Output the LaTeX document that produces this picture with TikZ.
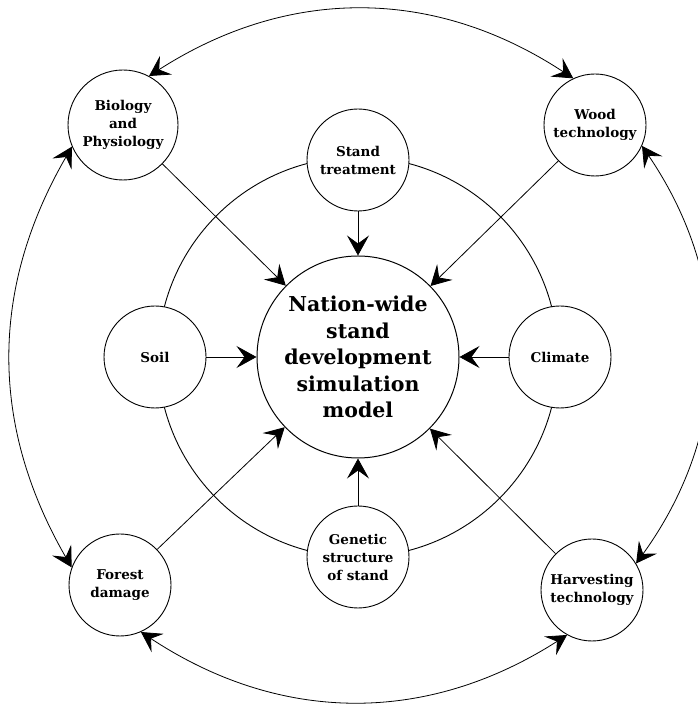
\documentclass[tikz,border=0pt]{standalone}
\usepackage{fontspec}
\setmainfont{DejaVu Serif}
\usetikzlibrary{arrows.meta}
\begin{document}
\begin{tikzpicture}[x=1pt,y=1pt,
  hub/.style={circle,draw,line width=1pt,fill=white,minimum size=202pt,inner sep=0pt,align=center,font=\bfseries\fontsize{20.5}{26.5}\selectfont},
  sat/.style={circle,draw,line width=0.9pt,fill=white,minimum size=102pt,inner sep=0pt,align=center,font=\bfseries\fontsize{13.5}{18}\selectfont},
  ringline/.style={circle,draw,line width=0.9pt,minimum size=400pt,inner sep=0pt},
  feed/.style={-{Stealth[length=20pt,width=22pt,inset=8pt]},line width=0.8pt},
  link/.style={{Stealth[length=20pt,width=22pt,inset=8pt]}-{Stealth[length=20pt,width=22pt,inset=8pt]},line width=0.8pt}]
\useasboundingbox (0,0) rectangle (697,706);
\node[ringline] (ring) at (358,349) {};
\node[hub] (hub) at (358,349) {Nation-wide\\stand\\development\\simulation\\model};
\node[sat] (stand) at (358,546) {Stand\\treatment};
\node[sat] (gen) at (358,149) {Genetic\\structure\\of stand};
\node[sat] (soil) at (155,349) {Soil};
\node[sat] (clim) at (560,349) {Climate};
\node[sat,minimum size=110pt] (bio) at (123,581) {Biology\\and\\Physiology};
\node[sat] (wood) at (595,581) {Wood\\technology};
\node[sat] (forest) at (120,121) {Forest\\damage};
\node[sat] (harv) at (592,116) {Harvesting\\technology};
\draw[feed] (bio) -- (hub);
\draw[feed] (wood) -- (hub);
\draw[feed] (stand) -- (hub);
\draw[feed] (soil) -- (hub);
\draw[feed] (clim) -- (hub);
\draw[feed] (gen) -- (hub);
\draw[feed] (forest) -- (hub);
\draw[feed] (harv) -- (hub);
\draw[link] (bio.62) to[bend left=33] (wood.115);
\draw[link] (wood.-24) to[bend left=35] (harv.31);
\draw[link] (harv.-119) to[bend left=33] (forest.-66);
\draw[link] (forest.160) to[bend left=30] (bio.203);
\end{tikzpicture}
\end{document}
